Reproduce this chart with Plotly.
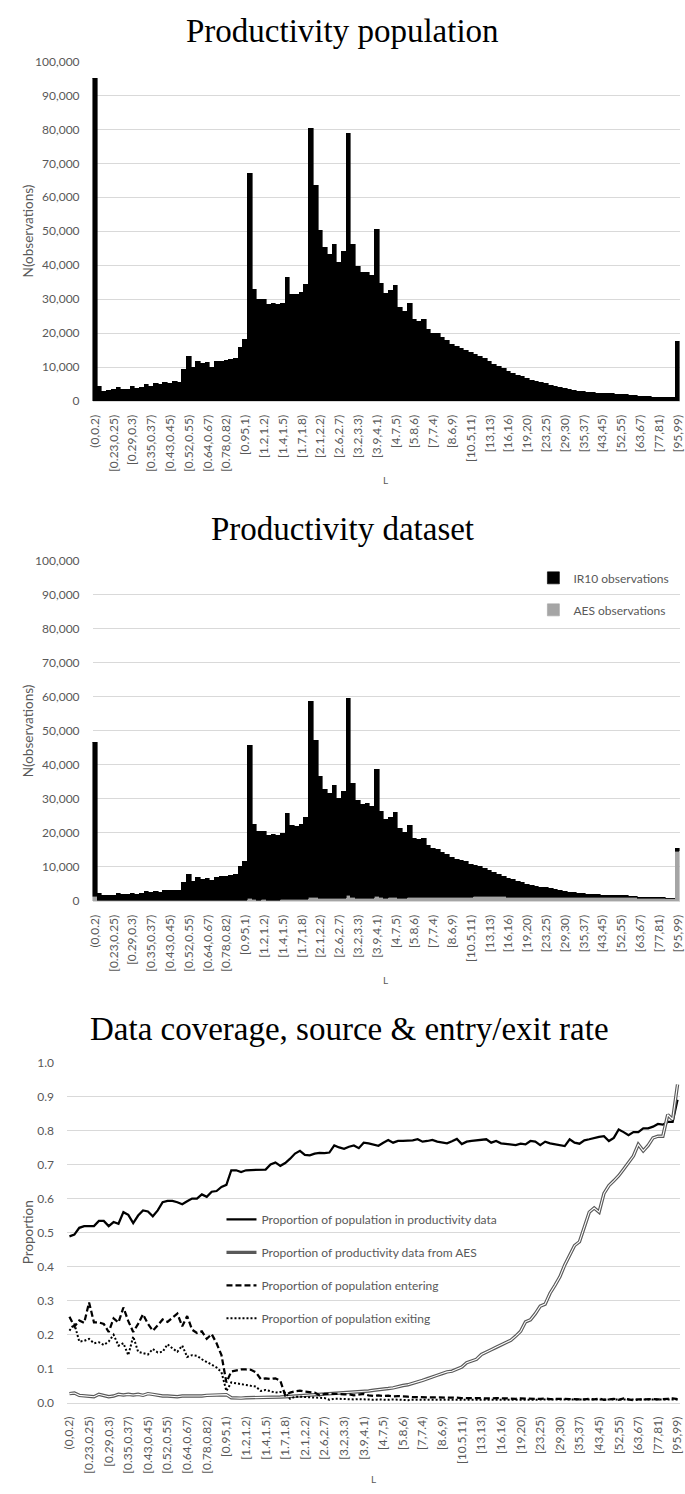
import plotly.graph_objects as go

# ---- bins of L (productivity) ----
categories = [
    "(0,0.2)", "[0.2,0.21)", "[0.21,0.22)", "[0.22,0.23)", "[0.23,0.25)", "[0.25,0.26)", "[0.26,0.27)", "[0.27,0.29)",
    "[0.29,0.3)", "[0.3,0.31)", "[0.31,0.33)", "[0.33,0.35)", "[0.35,0.37)", "[0.37,0.39)", "[0.39,0.41)", "[0.41,0.43)",
    "[0.43,0.45)", "[0.45,0.47)", "[0.47,0.5)", "[0.5,0.52)", "[0.52,0.55)", "[0.55,0.58)", "[0.58,0.61)", "[0.61,0.64)",
    "[0.64,0.67)", "[0.67,0.7)", "[0.7,0.74)", "[0.74,0.78)", "[0.78,0.82)", "[0.82,0.86)", "[0.86,0.9)", "[0.9,0.95)",
    "[0.95,1)", "[1,1.05)", "[1.05,1.1)", "[1.1,1.2)", "[1.2,1.2)", "[1.2,1.3)", "[1.3,1.3)", "[1.3,1.4)",
    "[1.4,1.5)", "[1.5,1.5)", "[1.5,1.6)", "[1.6,1.7)", "[1.7,1.8)", "[1.8,1.9)", "[2,2)", "[2,2.1)",
    "[2.1,2.2)", "[2.2,2.3)", "[2.3,2.4)", "[2.4,2.6)", "[2.6,2.7)", "[2.7,3)", "[3,3.1)", "[3.1,3.2)",
    "[3.2,3.3)", "[3.3,3.5)", "[3.5,3.7)", "[3.7,3.9)", "[3.9,4.1)", "[4.1,4.3)", "[4.3,4.5)", "[4.5,4.7)",
    "[4.7,5)", "[5,5.2)", "[5.2,5.5)", "[5.5,5.8)", "[5.8,6)", "[6,6.3)", "[6.3,6.6)", "[6.6,7)",
    "[7,7.4)", "[7.4,7.8)", "[7.8,8.2)", "[8.2,8.6)", "[8.6,9)", "[9,9.5)", "[9.5,10)", "[10,10.5)",
    "[10.5,11)", "[11,11.5)", "[11.5,12)", "[12,13)", "[13,13)", "[13,14)", "[14,15)", "[15,16)",
    "[16,16)", "[16,17)", "[17,18)", "[18,19)", "[19,20)", "[20,21)", "[21,22)", "[22,23)",
    "[23,25)", "[25,26)", "[26,27)", "[27,29)", "[29,30)", "[30,32)", "[32,33)", "[33,35)",
    "[35,37)", "[37,39)", "[39,41)", "[41,43)", "[43,45)", "[45,47)", "[47,50)", "[50,52)",
    "[52,55)", "[55,57)", "[57,60)", "[60,63)", "[63,67)", "[67,70)", "[70,74)", "[74,77)",
    "[77,81)", "[81,85)", "[85,90)", "[90,95)", "[95,99)",
]
tick_labels = categories[::4]

# ---- population counts per bin ----
population = [
    95000, 4300, 2800, 3000, 3300, 4100, 3300, 3500, 4300, 3800,
    4000, 4800, 4300, 5100, 4800, 5600, 5300, 5800, 5500, 9300,
    13000, 9800, 11600, 11000, 11300, 10000, 11600, 11600, 11800, 12200,
    12500, 15800, 18000, 67000, 33000, 30000, 30000, 28300, 28600, 28300,
    28800, 36500, 31400, 31400, 31900, 34300, 80300, 63500, 50200, 45200,
    43100, 46000, 40900, 44000, 78800, 46100, 39500, 37800, 37800, 37000,
    50600, 34600, 31600, 32600, 33900, 27600, 26300, 28800, 24100, 23400,
    23900, 21200, 20000, 19800, 18600, 17800, 16800, 16100, 15400, 14800,
    14200, 13700, 13100, 12500, 11600, 10800, 10100, 9500, 8800, 8200,
    7600, 7100, 6600, 6100, 5700, 5400, 5100, 4700, 4300, 3900,
    3600, 3300, 3100, 2900, 2700, 2600, 2400, 2300, 2200, 2100,
    2100, 2000, 1900, 1900, 1700, 1600, 1400, 1400, 1200, 1100,
    1100, 1100, 1000, 1000, 17400,
]

# ---- productivity dataset counts per bin, by source ----
ir10_obs = [
    45400, 2040, 1470, 1470, 1670, 2060, 1750, 1860, 2160, 1960,
    2050, 2640, 2340, 2640, 2530, 3130, 2920, 3120, 3030, 5390,
    7550, 5700, 6680, 6270, 6570, 5890, 6850, 6960, 6940, 7430,
    7630, 9760, 11220, 45100, 22180, 20020, 20190, 19010, 19210, 19010,
    19380, 25160, 21820, 21530, 22090, 24130, 57550, 46060, 35830, 32180,
    30780, 32990, 29250, 31460, 57890, 33670, 28580, 27580, 27740, 26840,
    37420, 25480, 23110, 23670, 24860, 20410, 19220, 21040, 17560, 17050,
    17350, 15420, 14290, 14120, 13320, 12590, 11700, 11180, 10700, 10360,
    9670, 9260, 8870, 8370, 7720, 7140, 6500, 6110, 5560, 5110,
    4730, 4340, 3950, 3510, 3330, 3030, 2790, 2560, 2240, 1960,
    1700, 1490, 1360, 1180, 1110, 970, 840, 770, 750, 620,
    580, 560, 500, 470, 410, 360, 270, 290, 240, 200,
    200, 200, 120, 130, 1000,
]
aes_obs = [
    1300, 60, 30, 30, 30, 40, 50, 40, 40, 40,
    50, 60, 60, 60, 70, 70, 80, 80, 70, 110,
    150, 100, 120, 130, 130, 110, 150, 140, 160, 170,
    170, 240, 280, 700, 320, 280, 310, 290, 290, 290,
    320, 440, 380, 370, 410, 470, 1050, 940, 770, 720,
    720, 810, 750, 840, 1610, 930, 820, 820, 860, 860,
    1280, 920, 890, 930, 1040, 890, 880, 1060, 940, 950,
    1050, 980, 1010, 1080, 1080, 1110, 1100, 1120, 1100, 1140,
    1130, 1240, 1230, 1230, 1280, 1260, 1200, 1190, 1140, 1090,
    1070, 1060, 1050, 1090, 1070, 1070, 1110, 1040, 1060, 1040,
    1000, 1010, 1040, 1020, 990, 1030, 1060, 1030, 950, 980,
    1020, 1040, 1000, 1030, 990, 940, 830, 810, 760, 700,
    700, 700, 680, 670, 14500,
]

# ---- proportions ----
share_in_data = [
    0.489, 0.494, 0.514, 0.519, 0.519, 0.519, 0.534, 0.534, 0.519, 0.531,
    0.526, 0.560, 0.552, 0.528, 0.550, 0.565, 0.562, 0.548, 0.565, 0.589,
    0.593, 0.593, 0.589, 0.583, 0.592, 0.600, 0.600, 0.612, 0.605, 0.620,
    0.622, 0.634, 0.640, 0.683, 0.683, 0.678, 0.683, 0.683, 0.683, 0.683,
    0.685, 0.700, 0.706, 0.696, 0.704, 0.717, 0.732, 0.740, 0.728, 0.727,
    0.732, 0.734, 0.733, 0.735, 0.756, 0.750, 0.746, 0.752, 0.756, 0.748,
    0.764, 0.762, 0.759, 0.755, 0.764, 0.772, 0.764, 0.769, 0.769, 0.769,
    0.771, 0.774, 0.767, 0.769, 0.772, 0.767, 0.764, 0.762, 0.768, 0.775,
    0.760, 0.767, 0.769, 0.771, 0.772, 0.774, 0.764, 0.769, 0.762, 0.761,
    0.759, 0.757, 0.761, 0.759, 0.769, 0.767, 0.757, 0.767, 0.762, 0.759,
    0.757, 0.754, 0.774, 0.764, 0.761, 0.771, 0.774, 0.778, 0.781, 0.783,
    0.769, 0.778, 0.803, 0.795, 0.786, 0.795, 0.795, 0.806, 0.806, 0.811,
    0.819, 0.817, 0.825, 0.825, 0.890,
]
share_from_aes = [
    0.027, 0.029, 0.022, 0.020, 0.020, 0.018, 0.025, 0.022, 0.018, 0.020,
    0.025, 0.023, 0.025, 0.023, 0.025, 0.022, 0.027, 0.025, 0.022, 0.020,
    0.020, 0.018, 0.018, 0.020, 0.020, 0.019, 0.021, 0.020, 0.022, 0.022,
    0.022, 0.024, 0.024, 0.015, 0.014, 0.014, 0.015, 0.015, 0.015, 0.015,
    0.016, 0.017, 0.017, 0.017, 0.018, 0.019, 0.018, 0.020, 0.021, 0.022,
    0.023, 0.024, 0.025, 0.026, 0.027, 0.027, 0.028, 0.029, 0.030, 0.031,
    0.033, 0.035, 0.037, 0.038, 0.040, 0.042, 0.044, 0.048, 0.051, 0.053,
    0.057, 0.060, 0.066, 0.071, 0.075, 0.081, 0.086, 0.091, 0.093, 0.099,
    0.105, 0.118, 0.122, 0.128, 0.142, 0.150, 0.156, 0.163, 0.170, 0.176,
    0.184, 0.196, 0.210, 0.238, 0.244, 0.262, 0.284, 0.290, 0.322, 0.345,
    0.370, 0.405, 0.434, 0.462, 0.473, 0.515, 0.560, 0.572, 0.560, 0.615,
    0.638, 0.652, 0.667, 0.686, 0.706, 0.725, 0.759, 0.740, 0.756, 0.778,
    0.783, 0.783, 0.846, 0.832, 0.935,
]
share_entering = [
    0.253, 0.224, 0.242, 0.235, 0.295, 0.236, 0.236, 0.232, 0.208, 0.248,
    0.236, 0.280, 0.240, 0.208, 0.232, 0.260, 0.232, 0.212, 0.228, 0.245,
    0.238, 0.250, 0.262, 0.225, 0.255, 0.215, 0.205, 0.210, 0.188, 0.202,
    0.175, 0.140, 0.060, 0.092, 0.095, 0.098, 0.098, 0.097, 0.090, 0.070,
    0.072, 0.070, 0.072, 0.065, 0.022, 0.030, 0.034, 0.036, 0.033, 0.032,
    0.030, 0.022, 0.026, 0.026, 0.027, 0.026, 0.025, 0.025, 0.022, 0.024,
    0.026, 0.022, 0.020, 0.022, 0.020, 0.021, 0.019, 0.020, 0.018, 0.018,
    0.017, 0.017, 0.016, 0.017, 0.016, 0.016, 0.015, 0.016, 0.015, 0.015,
    0.014, 0.015, 0.014, 0.014, 0.013, 0.014, 0.013, 0.014, 0.013, 0.012,
    0.013, 0.012, 0.013, 0.012, 0.013, 0.012, 0.012, 0.013, 0.011, 0.012,
    0.011, 0.012, 0.011, 0.010, 0.011, 0.010, 0.012, 0.010, 0.013, 0.009,
    0.010, 0.012, 0.009, 0.013, 0.010, 0.008, 0.010, 0.011, 0.010, 0.011,
    0.010, 0.010, 0.012, 0.013, 0.011,
]
share_exiting = [
    0.212, 0.232, 0.180, 0.182, 0.188, 0.175, 0.178, 0.170, 0.180, 0.200,
    0.168, 0.175, 0.140, 0.195, 0.150, 0.145, 0.142, 0.158, 0.148, 0.150,
    0.172, 0.160, 0.150, 0.168, 0.135, 0.140, 0.138, 0.128, 0.120, 0.112,
    0.104, 0.090, 0.035, 0.060, 0.057, 0.055, 0.053, 0.050, 0.048, 0.035,
    0.038, 0.035, 0.030, 0.032, 0.030, 0.012, 0.018, 0.018, 0.017, 0.018,
    0.016, 0.015, 0.014, 0.009, 0.012, 0.012, 0.011, 0.010, 0.010, 0.011,
    0.010, 0.010, 0.009, 0.010, 0.009, 0.009, 0.010, 0.009, 0.009, 0.008,
    0.009, 0.009, 0.008, 0.009, 0.008, 0.008, 0.009, 0.008, 0.008, 0.009,
    0.008, 0.008, 0.009, 0.008, 0.008, 0.008, 0.009, 0.008, 0.008, 0.008,
    0.009, 0.008, 0.008, 0.008, 0.009, 0.008, 0.008, 0.008, 0.008, 0.009,
    0.008, 0.008, 0.008, 0.009, 0.008, 0.008, 0.008, 0.008, 0.009, 0.008,
    0.008, 0.008, 0.009, 0.008, 0.008, 0.008, 0.008, 0.009, 0.008, 0.008,
    0.008, 0.009, 0.008, 0.009, 0.010,
]

for series in (population, ir10_obs, aes_obs, share_in_data, share_from_aes, share_entering, share_exiting):
    assert len(series) == len(categories)

# ---- page geometry (pixels) ----
W, H = 685, 1494
SANS = "Lato"
SERIF = "Liberation Serif"
TXT = "#595959"
GRID = "#D9D9D9"


def px_x(p):
    return p / W


def px_y(p):
    return 1 - p / H


fig = go.Figure()

# Panel 1: population histogram
fig.add_trace(go.Bar(x=categories, y=population, marker=dict(color="black", line=dict(color="black", width=0.6)),
                     xaxis="x", yaxis="y", showlegend=False, hoverinfo="x+y"))

# Panel 2: dataset histogram, stacked by source (AES at the bottom)
fig.add_trace(go.Bar(x=categories, y=aes_obs, name="AES observations",
                     marker=dict(color="#A5A5A5", line=dict(color="#A5A5A5", width=0.6)),
                     xaxis="x2", yaxis="y2", legend="legend", legendgroup="aes", legendrank=2))
fig.add_trace(go.Bar(x=categories, y=ir10_obs, name="IR10 observations",
                     marker=dict(color="black", line=dict(color="black", width=0.6)),
                     xaxis="x2", yaxis="y2", legend="legend", legendgroup="ir10", legendrank=1))

# Panel 3: proportions
fig.add_trace(go.Scatter(x=categories, y=share_in_data, mode="lines",
                         name="Proportion of population in productivity data",
                         line=dict(color="black", width=2.25),
                         xaxis="x3", yaxis="y3", legend="legend2", legendgroup="a", legendrank=1))
fig.add_trace(go.Scatter(x=categories, y=share_from_aes, mode="lines",
                         name="Proportion of productivity data from AES",
                         line=dict(color="#595959", width=3.4),
                         xaxis="x3", yaxis="y3", legend="legend2", legendgroup="b", legendrank=2))
fig.add_trace(go.Scatter(x=categories, y=share_from_aes, mode="lines",
                         line=dict(color="white", width=1.1), showlegend=False, hoverinfo="skip",
                         xaxis="x3", yaxis="y3"))
fig.add_trace(go.Scatter(x=categories, y=share_entering, mode="lines",
                         name="Proportion of population entering",
                         line=dict(color="black", width=2.25, dash="6px,3px"),
                         xaxis="x3", yaxis="y3", legend="legend2", legendgroup="c", legendrank=3))
fig.add_trace(go.Scatter(x=categories, y=share_exiting, mode="lines",
                         name="Proportion of population exiting",
                         line=dict(color="black", width=2, dash="2px,2px"),
                         xaxis="x3", yaxis="y3", legend="legend2", legendgroup="d", legendrank=4))

tickfont = dict(family=SANS, size=12, color=TXT)


def xaxis_cfg(left_px, anchor):
    return dict(
        domain=[px_x(left_px), 1.0], anchor=anchor, type="category",
        categoryorder="array", categoryarray=categories, range=[-0.5, len(categories) - 0.5],
        tickmode="array", tickvals=tick_labels, ticktext=tick_labels, tickangle=-90,
        tickfont=tickfont, showgrid=False, showline=True, linecolor=GRID, linewidth=1,
        ticks="", ticklabelstandoff=8, fixedrange=True,
    )


def yaxis_cfg(top_px, bottom_px, anchor, rng, dtick, fmt):
    return dict(
        domain=[px_y(bottom_px), px_y(top_px)], anchor=anchor, range=rng, dtick=dtick,
        tickformat=fmt, tickfont=tickfont, showgrid=True, gridcolor=GRID, gridwidth=1,
        zeroline=False, showline=False, ticks="", ticklabelstandoff=12, fixedrange=True,
    )


legend_font = dict(family=SANS, size=12, color=TXT)

fig.update_layout(
    width=W, height=H, margin=dict(l=0, r=0, t=0, b=0),
    paper_bgcolor="white", plot_bgcolor="white",
    barmode="stack", bargap=0,
    font=dict(family=SANS, color=TXT),
    xaxis=xaxis_cfg(88, "y"),
    yaxis=yaxis_cfg(54, 397, "x", [0, 100000], 10000, ",d"),
    xaxis2=xaxis_cfg(88, "y2"),
    yaxis2=yaxis_cfg(558, 902, "x2", [0, 100000], 10000, ",d"),
    xaxis3=xaxis_cfg(62, "y3"),
    yaxis3=yaxis_cfg(1065, 1409, "x3", [0, 1.0], 0.1, ".1f"),
    legend=dict(x=px_x(536), y=px_y(561), xanchor="left", yanchor="top",
                traceorder="grouped", tracegroupgap=13,
                font=legend_font, bgcolor="rgba(0,0,0,0)", itemwidth=30),
    legend2=dict(x=px_x(219), y=px_y(1209), xanchor="left", yanchor="top",
                 traceorder="grouped", tracegroupgap=14,
                 font=legend_font, bgcolor="rgba(0,0,0,0)", itemwidth=30),
)

annotations = []
# chart titles
for text, y_mid, x_mid in [("Productivity population", 23, 342),
                           ("Productivity dataset", 526, 342),
                           ("Data coverage, source &amp; entry/exit rate", 1031, 349)]:
    annotations.append(dict(text=text, x=px_x(x_mid), y=px_y(y_mid), xref="paper", yref="paper",
                            xanchor="center", yanchor="middle", showarrow=False,
                            font=dict(family=SERIF, size=33, color="black")))
# axis titles
for text, x_mid, y_mid in [("N(observations)", 22, 225), ("N(observations)", 22, 730), ("Proportion", 22, 1237)]:
    annotations.append(dict(text=text, x=px_x(x_mid), y=px_y(y_mid), xref="paper", yref="paper",
                            xanchor="center", yanchor="middle", textangle=-90, showarrow=False,
                            font=dict(family=SANS, size=13.5, color=TXT)))
for x_mid, y_mid in [(386, 477), (386, 982), (373, 1486)]:
    annotations.append(dict(text="L", x=px_x(x_mid), y=px_y(y_mid), xref="paper", yref="paper",
                            xanchor="center", yanchor="middle", showarrow=False,
                            font=dict(family=SANS, size=10, color=TXT)))
fig.update_layout(annotations=annotations)

fig.write_html("out.html")
